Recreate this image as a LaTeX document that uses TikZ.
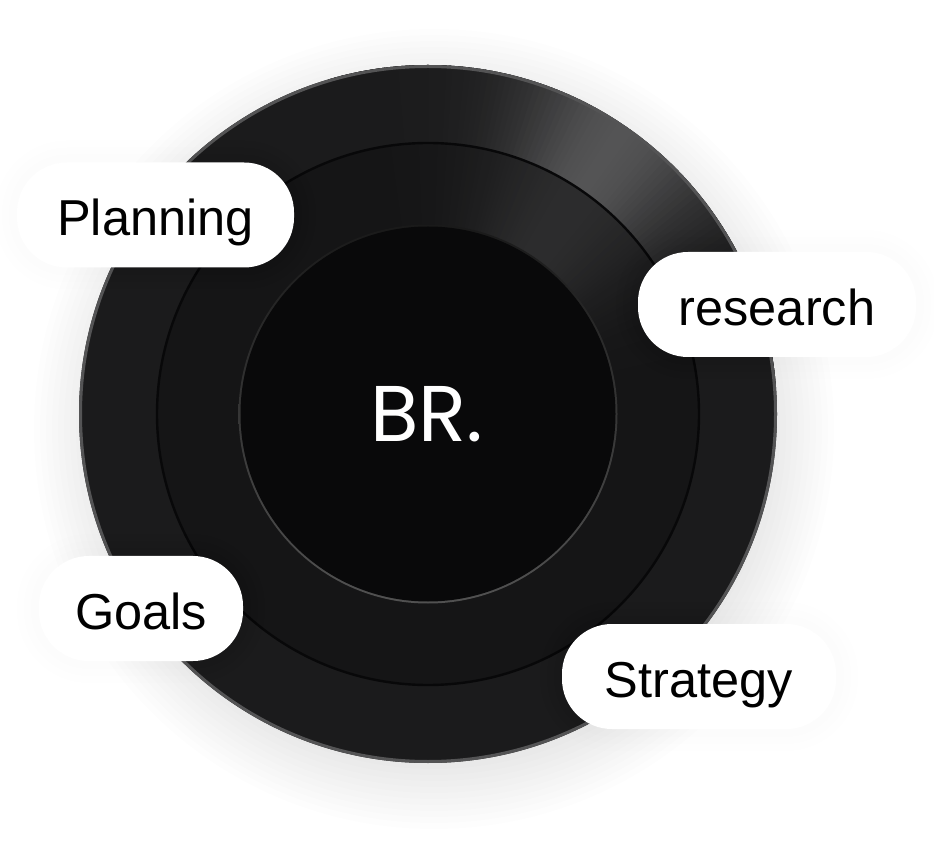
\documentclass[tikz,border=0pt]{standalone}
\usepackage{fontspec}
\setmainfont{Liberation Sans}
\newfontfamily\logofont{Poppins}
\definecolor{outerdisc}{RGB}{27,27,28}
\definecolor{middledisc}{RGB}{21,21,22}
\definecolor{innerdisc}{RGB}{9,9,10}
\definecolor{rim}{RGB}{84,84,85}
\definecolor{groove}{RGB}{8,8,9}
\begin{document}
\begin{tikzpicture}[x=1pt, y=1pt,
    pill/.style={rectangle, fill=white, rounded corners=50pt, inner sep=0pt, minimum height=105pt, text=black, font=\fontsize{50.5}{51}\selectfont, text height=54pt, text depth=12pt, align=center,
        preaction={draw=black, draw opacity=.003, line width=44pt},
        preaction={draw=black, draw opacity=.003, line width=30pt},
        preaction={draw=black, draw opacity=.003, line width=16pt}},
    logo/.style={text=white, inner sep=0pt, font=\logofont\fontsize{79}{79}\selectfont}]

\useasboundingbox (0,0) rectangle (934,844);
\coordinate (hub) at (428,430);

\foreach \r in {0,6,...,66} {
    \fill [black, opacity=.008] (434,415) circle (334+\r);
}

\fill [outerdisc] (hub) circle (349);
\begin{scope}
    \clip (hub) circle (349);
    \foreach \a in {5,6,...,105} {
        \pgfmathsetmacro\glow{25*exp(-((\a-55)/18)^2)}
        \fill [white!\glow!outerdisc] (hub) -- ++(\a:360) arc (\a:\a+1.6:360) -- cycle;
    }
\end{scope}

\fill [middledisc] (hub) circle (271);
\begin{scope}
    \clip (hub) circle (271);
    \foreach \a in {5,6,...,105} {
        \pgfmathsetmacro\glow{10*exp(-((\a-55)/22)^2)}
        \fill [white!\glow!middledisc] (hub) -- ++(\a:280) arc (\a:\a+1.6:280) -- cycle;
    }
\end{scope}
\draw [groove, line width=2.4pt] (hub) circle (271);

\shade [top color=black!90, bottom color=black!68] (hub) circle (189.5);
\fill [innerdisc] (hub) circle (187.5);

\draw [rim, line width=3pt] (hub) circle (347.5);

\node [logo] (brand) at (427,430) {BR.};

\node [pill, minimum width=277pt] (planning) at (155.5,629) {Planning};
\node [pill, minimum width=278pt] (research) at (777,539.5) {research};
\node [pill, minimum width=204pt] (goals) at (141,235.5) {Goals};
\node [pill, minimum width=274pt] (strategy) at (699,167.5) {Strategy};

\end{tikzpicture}
\end{document}
